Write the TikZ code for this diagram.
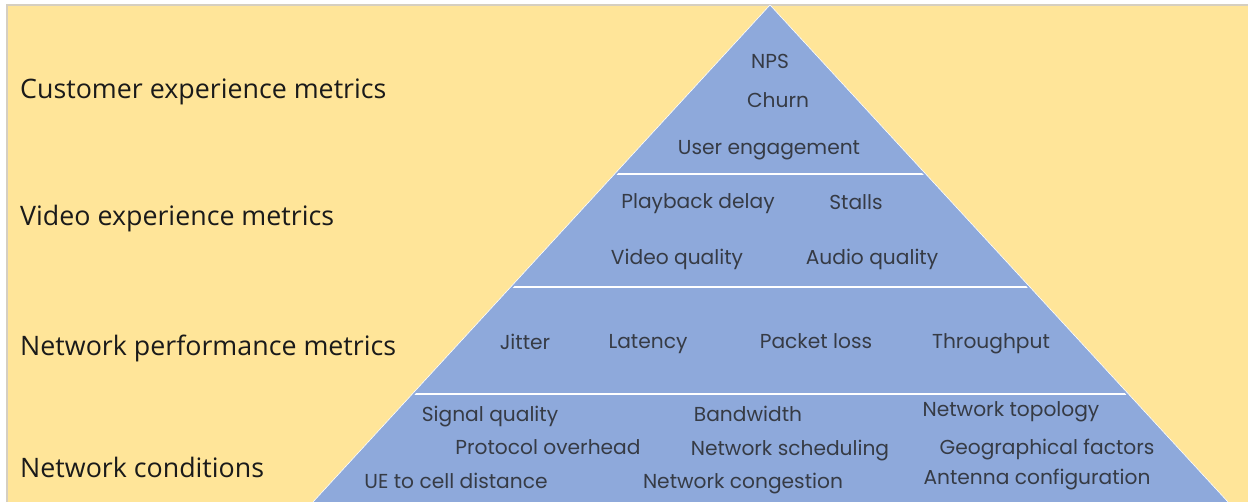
\documentclass[tikz,border=0pt]{standalone}
\usepackage{fontspec}
\newfontfamily\pyrfont{Poppins}
\newfontfamily\lblfont{Open Sans}
\definecolor{bgyellow}{HTML}{FFE599}
\definecolor{pyrblue}{HTML}{8EA9DB}
\definecolor{pyrtext}{HTML}{363B45}
\definecolor{lbltext}{HTML}{1A1A1A}
\definecolor{edgegrey}{HTML}{D6CFC0}
\tikzset{
  item/.style={anchor=base, inner sep=0pt, text=pyrtext, font=\pyrfont\fontsize{20.2}{23}\selectfont},
  lvl/.style={anchor=base west, inner sep=0pt, text=lbltext, font=\lblfont\fontsize{26.8}{30}\selectfont},
  divider/.style={draw=white, line width=2pt}
}
\begin{document}
\begin{tikzpicture}[x=1pt,y=-1pt]
\useasboundingbox (0,0) rectangle (1248,502);
\fill[bgyellow] (7,5) rectangle (1248,502);
\draw[edgegrey, line width=1.5pt] (7,502) -- (7,5) -- (1248,5);
\coordinate (apex) at (770,5);
\coordinate (bl) at (313,502);
\coordinate (br) at (1228,502);
\fill[pyrblue] (apex) -- (bl) -- (br) -- cycle;
\begin{scope}
\clip (770,8) -- (316,502) -- (1225,502) -- cycle;
\draw[divider] (300,174) -- (1240,174);
\draw[divider] (300,287) -- (1240,287);
\draw[divider] (300,394) -- (1240,394);
\end{scope}
\draw[white, line width=0.6pt] (bl) -- (apex) -- (br);
% level labels
\node[lvl] (l1) at (20,99) {Customer experience metrics};
\node[lvl] (l2) at (20,226) {Video experience metrics};
\node[lvl] (l3) at (20,356) {Network performance metrics};
\node[lvl] (l4) at (20,477) {Network conditions};
% tier 1
\node[item] (nps) at (770,69) {NPS};
\node[item] (churn) at (778,108) {Churn};
\node[item] (ue) at (769,155) {User engagement};
% tier 2
\node[item] (pd) at (698,209) {Playback delay};
\node[item] (st) at (856,210) {Stalls};
\node[item] (vq) at (677,265) {Video quality};
\node[item] (aq) at (872,265) {Audio quality};
% tier 3
\node[item] (jit) at (525,350) {Jitter};
\node[item] (lat) at (648,349) {Latency};
\node[item] (pl) at (816,349) {Packet loss};
\node[item] (thr) at (991,349) {Throughput};
% tier 4
\node[item] (sq) at (490,421) {Signal quality};
\node[item] (bw) at (748,421) {Bandwidth};
\node[item] (nt) at (1011,417) {Network topology};
\node[item] (po) at (548,455) {Protocol overhead};
\node[item] (ns) at (790,456) {Network scheduling};
\node[item] (gf) at (1047,455) {Geographical factors};
\node[item] (ucd) at (456,489) {UE to cell distance};
\node[item] (nc) at (743,488) {Network congestion};
\node[item] (ac) at (1037,485) {Antenna configuration};
\end{tikzpicture}
\end{document}
